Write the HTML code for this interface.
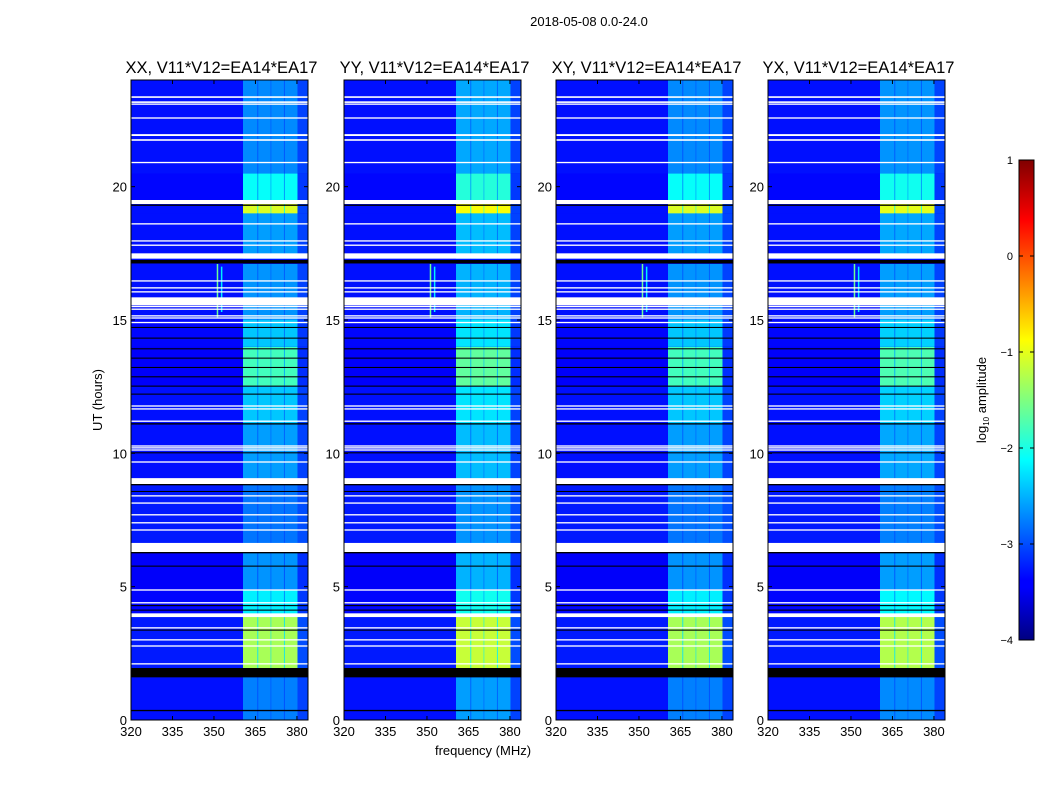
<!DOCTYPE html>
<html><head><meta charset="utf-8"><style>
body{margin:0;background:#fff;width:1050px;height:800px;overflow:hidden;font-family:"Liberation Sans","DejaVu Sans",sans-serif;}
svg text{font-family:"Liberation Sans","DejaVu Sans",sans-serif;}
</style></head><body>
<svg id="chart" width="1050" height="800" xmlns="http://www.w3.org/2000/svg">
<defs>
<linearGradient id="jet" x1="0" y1="1" x2="0" y2="0">
<stop offset="0" stop-color="#000080"/><stop offset="0.11" stop-color="#0000ff"/><stop offset="0.125" stop-color="#0000ff"/>
<stop offset="0.375" stop-color="#00ffff"/><stop offset="0.625" stop-color="#ffff00"/><stop offset="0.875" stop-color="#ff0000"/><stop offset="1" stop-color="#800000"/>
</linearGradient>
</defs>
<text x="589" y="26" font-size="13" text-anchor="middle">2018-05-08 0.0-24.0</text>
<g id="panels"></g>
<text transform="translate(102,400) rotate(-90)" font-size="13" text-anchor="middle">UT (hours)</text>
<text x="483" y="755" font-size="13" text-anchor="middle">frequency (MHz)</text>
<g>
<rect x="1019" y="160" width="15" height="480" fill="url(#jet)" stroke="#000" stroke-width="1"/>
<g id="cbticks"></g>
<text transform="translate(986,400) rotate(-90)" font-size="13" text-anchor="middle">log<tspan font-size="8" dy="3">10</tspan><tspan dy="-3"> amplitude</tspan></text>
</g>
</svg>
<script>
const panelTitles=["XX, V11*V12=EA14*EA17","YY, V11*V12=EA14*EA17","XY, V11*V12=EA14*EA17","YX, V11*V12=EA14*EA17"];
const panelBoost=[0,0.15,0,0.05];
const xTicks=[320,335,350,365,380];
const yTicks=[0,5,10,15,20];
const cbTicks=[1,0,-1,-2,-3,-4];
// time segments [start h, end h, background log amp, band log amp]
const segStart=[0,1.95,3.9,4.9,6.3,9.0,11.1,12.5,14.0,15.0,17.3,19.0,19.5,20.5];
const segEnd  =[1.6,3.9,4.9,6.3,9.0,11.1,12.5,14.0,15.0,17.1,19.0,19.35,20.5,24];
const segBg   =[-3.3,-3.25,-3.35,-3.4,-3.25,-3.3,-3.3,-3.4,-3.35,-3.3,-3.3,-3.3,-3.35,-3.3];
const segBand =[-2.75,-1.3,-2.2,-2.65,-2.8,-2.6,-2.4,-1.8,-2.4,-2.65,-2.6,-1.05,-2.1,-2.7];
// channel groups of the bright band (MHz)
const groupLo=[360.5,366.0,370.7,375.6];
const groupHi=[365.7,370.5,375.3,380.2];
const bandTailLo=380.2, bandTailHi=384;
// flagged (white) and zero (black) time ranges
const whiteLo=[23.33,23.14,23.07,22.55,21.9,21.72,20.88,19.35,18.58,17.94,17.78,17.3,16.44,16.18,16.03,15.55,15.48,15.38,15.13,15.05,14.88,11.75,11.64,11.18,10.25,10.18,10.1,9.65,8.85,8.38,8.11,7.67,7.37,7.1,6.3,4.85,4.37,3.86,3.43,2.98,2.75,2.08];
const whiteHi=[23.39,23.2,23.12,22.6,21.97,21.78,20.93,19.5,18.63,17.99,17.83,17.5,16.49,16.23,16.08,15.85,15.53,15.43,15.18,15.1,14.93,11.8,11.69,11.23,10.3,10.23,10.15,9.7,9.07,8.43,8.16,7.72,7.42,7.15,6.64,4.9,4.42,4.0,3.48,3.03,2.8,2.13];
const blackLo=[19.28,17.12,14.7,14.3,13.9,13.55,13.2,12.85,12.5,12.2,11.08,10.0,8.8,8.55,6.25,5.75,4.27,4.1,3.35,1.6,0.33];
const blackHi=[19.33,17.25,14.74,14.34,13.94,13.59,13.24,12.89,12.54,12.24,11.13,10.04,8.85,8.59,6.3,5.79,4.31,4.14,3.39,1.95,0.38];
// narrow RFI spike channel (MHz) active between hours
const spikeFreq=[351,352.5];
const spikeLo=[15.1,15.3];
const spikeHi=[17.1,17.0];
const spikeAmp=[-1.6,-2.2];

const PX=[131,344,556,768], PW=177, PT=80, PB=720;
const F0=320,F1=384,T0=0,T1=24;
function jet(v){let t=(v+4)/5;t=Math.max(0,Math.min(1,t));
 const r=Math.max(0,Math.min(1,Math.min(4*t-1.5,-4*t+4.5)));
 const g=Math.max(0,Math.min(1,Math.min(4*t-0.5,-4*t+3.5)));
 const b=Math.max(0,Math.min(1,Math.min(4*t+0.5,-4*t+2.5)));
 return `rgb(${Math.round(r*255)},${Math.round(g*255)},${Math.round(b*255)})`;}
const NS="http://www.w3.org/2000/svg";
function el(tag,attrs,parent){const e=document.createElementNS(NS,tag);for(const k in attrs)e.setAttribute(k,attrs[k]);parent.appendChild(e);return e;}
const root=document.getElementById('panels');
PX.forEach((px,p)=>{
 const xs=f=>px+(f-F0)/(F1-F0)*PW;
 const ys=h=>PB-(h-T0)/(T1-T0)*(PB-PT);
 const g=el('g',{},root);
 
 
 el('rect',{x:px,y:PT,width:PW,height:PB-PT,fill:jet(-3.3)},g);
 segStart.forEach((s,i)=>{
  const y0=ys(segEnd[i]),y1=ys(s);
  const bg=el('rect',{x:px,y:y0,width:PW,height:y1-y0,fill:jet(segBg[i])},g);
  
  
  const amp=segBand[i]+panelBoost[p];
  el('rect',{x:xs(groupLo[0]),y:y0,width:xs(groupHi[3])-xs(groupLo[0]),height:y1-y0,fill:jet((amp+segBg[i])/2)},g);
  groupLo.forEach((lo,j)=>{
   const r=el('rect',{x:xs(lo),y:y0,width:xs(groupHi[j])-xs(lo),height:y1-y0,fill:jet(amp)},g);
   
   
  });
  const t=el('rect',{x:xs(bandTailLo),y:y0,width:xs(bandTailHi)-xs(bandTailLo),height:y1-y0,fill:jet(segBg[i]+0.25)},g);
  
  
 });
 spikeFreq.forEach((f,i)=>{
  const r=el('rect',{x:xs(f),y:ys(spikeHi[i]),width:1.5,height:ys(spikeLo[i])-ys(spikeHi[i]),fill:jet(spikeAmp[i])},g);
  
  
 });
 blackLo.forEach((lo,i)=>{
  const r=el('rect',{x:px,y:ys(blackHi[i]),width:PW,height:Math.max(1,ys(lo)-ys(blackHi[i])),fill:'#000'},g);
  
  
 });
 whiteLo.forEach((lo,i)=>{
  const r=el('rect',{x:px,y:ys(whiteHi[i]),width:PW,height:Math.max(1.2,ys(lo)-ys(whiteHi[i])),fill:'#fff'},g);
  
  
 });
 el('rect',{x:px,y:PT,width:PW,height:PB-PT,fill:'none',stroke:'#000','stroke-width':1},g);
 const tt=el('text',{x:px+PW/2+2,y:73,'font-size':16.5,'text-anchor':'middle'},g);
 tt.textContent=panelTitles[p];
 
 
 xTicks.forEach(v=>{
  const x=xs(v);
  el('line',{x1:x,y1:PB,x2:x,y2:PB-4,stroke:'#000'},g);
  el('line',{x1:x,y1:PT,x2:x,y2:PT+4,stroke:'#000'},g);
  const t=el('text',{x:x,y:736,'font-size':13,'text-anchor':'middle'},g);
  t.textContent=v;
  
  
 });
 yTicks.forEach(v=>{
  const y=ys(v);
  el('line',{x1:px,y1:y,x2:px+4,y2:y,stroke:'#000'},g);
  el('line',{x1:px+PW,y1:y,x2:px+PW-4,y2:y,stroke:'#000'},g);
  const t=el('text',{x:px-4,y:y+5,'font-size':13,'text-anchor':'end'},g);
  t.textContent=v;
  
  
 });
});
const cb=document.getElementById('cbticks');
cbTicks.forEach(v=>{
 const y=640-(v+4)/5*480;
 el('line',{x1:1019,y1:y,x2:1023,y2:y,stroke:'#000'},cb);
 el('line',{x1:1034,y1:y,x2:1030,y2:y,stroke:'#000'},cb);
 const t=el('text',{x:1013,y:y+4,'font-size':11,'text-anchor':'end'},cb);
 t.textContent=v<0?'\u2212'+Math.abs(v):String(v);
 
 
});
</script>
</body></html>
